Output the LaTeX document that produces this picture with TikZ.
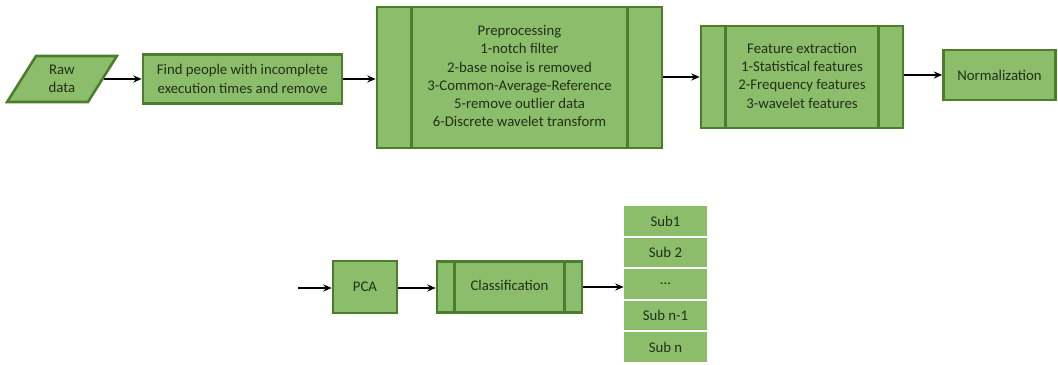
\documentclass[tikz,border=0pt]{standalone}
\usepackage{fontspec}
\setmainfont{Carlito}
\usepackage{tikz}
\usetikzlibrary{
  shapes.geometric,
  arrows.meta}

\definecolor{boxfill}{HTML}{8CBD6B}
\definecolor{boxline}{HTML}{4C7D2C}
\definecolor{boxtext}{HTML}{22301A}

\begin{document}
\begin{tikzpicture}[
  x=0.025cm, y=-0.025cm,
  every node/.style={font=\fontsize{10.5}{13}\selectfont, text=boxtext, align=center, inner sep=0pt},
  proc/.style={draw=boxline, fill=boxfill, line width=1.8pt},
  bar/.style={boxline, line width=1.8pt},
  subcell/.style={fill=boxfill, minimum width=2.075cm, minimum height=0.74cm},
  flow/.style={-{Stealth[length=6pt,width=5pt]}, line width=1.4pt, black}
]
\useasboundingbox (0,0) rectangle (1058,365);

% top row
\node[proc, trapezium, trapezium left angle=62, trapezium right angle=118,
  trapezium stretches=true, minimum width=2.75cm, minimum height=1.15cm] (raw) at (62,79) {Raw\\data};
\node[proc, minimum width=4.975cm, minimum height=1.225cm] (find) at (242.5,79)
  {Find people with incomplete\\execution times and remove};
\node[proc, minimum width=7.125cm, minimum height=3.525cm] (prep) at (519.5,77.5)
  {\raisebox{4pt}{\begin{tabular}{@{}c@{}}Preprocessing\\1-notch filter\\2-base noise is removed\\3-Common-Average-Reference\\5-remove outlier data\\6-Discrete wavelet transform\end{tabular}}};
\node[proc, minimum width=5.05cm, minimum height=2.55cm] (feat) at (802,77)
  {\raisebox{3pt}{\begin{tabular}{@{}c@{}}Feature extraction\\1-Statistical features\\2-Frequency features\\3-wavelet features\end{tabular}}};
\node[proc, minimum width=2.8cm, minimum height=1.25cm] (norm) at (999.5,75) {Normalization};

% inner bars of the process boxes
\draw[bar] ([xshift=0.9cm]prep.north west) -- ([xshift=0.9cm]prep.south west)
  ([xshift=-0.9cm]prep.north east) -- ([xshift=-0.9cm]prep.south east);
\draw[bar] ([xshift=0.65cm]feat.north west) -- ([xshift=0.65cm]feat.south west)
  ([xshift=-0.65cm]feat.north east) -- ([xshift=-0.65cm]feat.south east);

\draw[flow] (raw.east) -- (raw.east -| find.west);
\draw[flow] (find.east) -- (find.east -| prep.west);
\draw[flow] (prep.east |- feat.west) -- (feat.west);
\draw[flow] (feat.east |- norm.west) -- (norm.west);

% bottom row
\coordinate (in) at (298,288);
\node[proc, minimum width=1.6cm, minimum height=1.3cm] (pca) at (365,287) {PCA};
\node[proc, minimum width=3.625cm, minimum height=1.275cm] (class) at (509.5,287) {\raisebox{2pt}{Classification}};
\draw[bar] ([xshift=0.475cm]class.north west) -- ([xshift=0.475cm]class.south west)
  ([xshift=-0.475cm]class.north east) -- ([xshift=-0.475cm]class.south east);

\node[subcell] (sub1) at (665.5,221) {Sub1};
\node[subcell] (sub2) at (665.5,252.5) {Sub 2};
\node[subcell] (subdots) at (665.5,284) {...};
\node[subcell] (subm) at (665.5,315.5) {Sub n-1};
\node[subcell] (subn) at (665.5,347) {Sub n};

\draw[flow] (in) -- (in -| pca.west);
\draw[flow] (pca.east |- in) -- (in -| class.west);
\draw[flow] (class.east) -- (class.east -| subdots.west);
\end{tikzpicture}
\end{document}
